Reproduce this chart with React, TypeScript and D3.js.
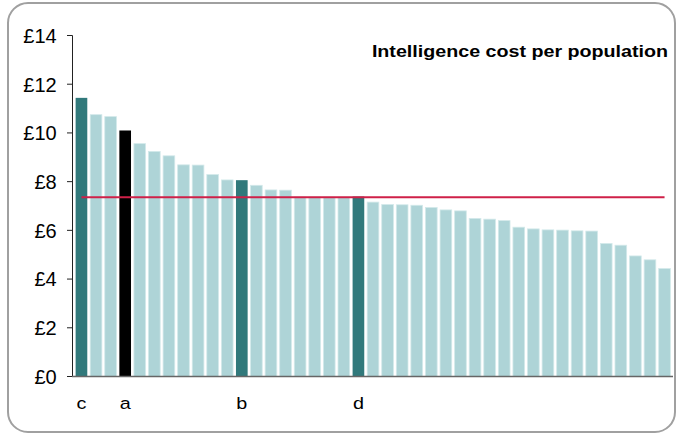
import React from "react";
import * as d3 from "d3";

const values: number[] = [
  11.44, 10.75, 10.67, 10.1, 9.56, 9.24, 9.06, 8.69, 8.68, 8.29, 8.07, 8.06, 7.85,
  7.66, 7.65, 7.37, 7.37, 7.36, 7.36, 7.39, 7.16, 7.06, 7.05, 7.03, 6.94, 6.84,
  6.8, 6.49, 6.46, 6.4, 6.13, 6.06, 6.02, 6.01, 5.98, 5.97, 5.46, 5.39, 4.95,
  4.79, 4.43,
];
const labels: string[] = values.map((_, i) =>
  i === 0 ? "c" : i === 3 ? "a" : i === 11 ? "b" : i === 19 ? "d" : ""
);
const kinds: string[] = values.map((_, i) =>
  i === 3 ? "self" : i === 0 || i === 11 || i === 19 ? "peer" : "other"
);
const averageValue = 7.36;
const yTicks: number[] = [0, 2, 4, 6, 8, 10, 12, 14];
const title = "Intelligence cost per population";

const colors: Record<string, string> = {
  self: "#000000",
  peer: "#31797b",
  other: "#aed4d7",
};

export default function App() {
  const W = 677;
  const H = 434;
  const x0 = 73;
  const x1 = 673;
  const yTop = 35.5;
  const yBottom = 376.5;
  const sx = 1.2;

  const x = d3
    .scaleBand<number>()
    .domain(values.map((_, i) => i))
    .range([x0, x1])
    .paddingInner(0.2)
    .paddingOuter(0.18);
  const y = d3.scaleLinear().domain([0, 14]).range([yBottom, yTop]);

  const font = "'Liberation Sans', Arial, sans-serif";
  const firstC = (x(0) as number) + x.bandwidth() / 2;
  const lastC = (x(values.length - 1) as number) + x.bandwidth() / 2;

  return (
    <svg
      width={W}
      height={H}
      style={{ position: "absolute", left: 0, top: 0 }}
      fontFamily={font}
    >
      <rect x={0} y={0} width={W} height={H} fill="#ffffff" />
      <rect
        x={8}
        y={3}
        width={667}
        height={429}
        rx={20}
        ry={20}
        fill="#ffffff"
        stroke="#a0a0a0"
        strokeWidth={2}
      />
      {values.map((v, i) => (
        <rect
          key={i}
          x={x(i)}
          y={y(v)}
          width={x.bandwidth()}
          height={y(0) - y(v)}
          fill={colors[kinds[i]]}
          stroke={kinds[i] === "other" ? "#d3e9ea" : "none"}
          strokeWidth={0.8}
        />
      ))}
      {/* y axis */}
      <line x1={72.5} x2={72.5} y1={yTop} y2={yBottom} stroke="#222" strokeWidth={1} />
      {yTicks.map((t) => (
        <g key={t}>
          <line x1={67} x2={72.5} y1={y(t)} y2={y(t)} stroke="#222" strokeWidth={1} />
          <text
            x={56.7}
            y={y(t)}
            dy="0.37em"
            textAnchor="end"
            fontSize={20}
            fill="#000"
          >
            {"£" + t}
          </text>
        </g>
      ))}
      {/* x axis */}
      <line x1={72} x2={x1} y1={yBottom} y2={yBottom} stroke="#666" strokeWidth={1.5} />
      {labels.map((l, i) =>
        l ? (
          <text
            key={"l" + i}
            transform={`translate(${(x(i) as number) + x.bandwidth() / 2},408.5) scale(${sx},1)`}
            textAnchor="middle"
            fontSize={16.5}
            fill="#000"
          >
            {l}
          </text>
        ) : null
      )}
      {/* average line */}
      <line
        x1={firstC}
        x2={lastC}
        y1={y(averageValue)}
        y2={y(averageValue)}
        stroke="#cf2048"
        strokeWidth={2}
      />
      <text
        transform={`translate(668,57) scale(1.23,1)`}
        textAnchor="end"
        fontSize={16}
        fontWeight="bold"
        fill="#000"
      >
        {title}
      </text>
    </svg>
  );
}
